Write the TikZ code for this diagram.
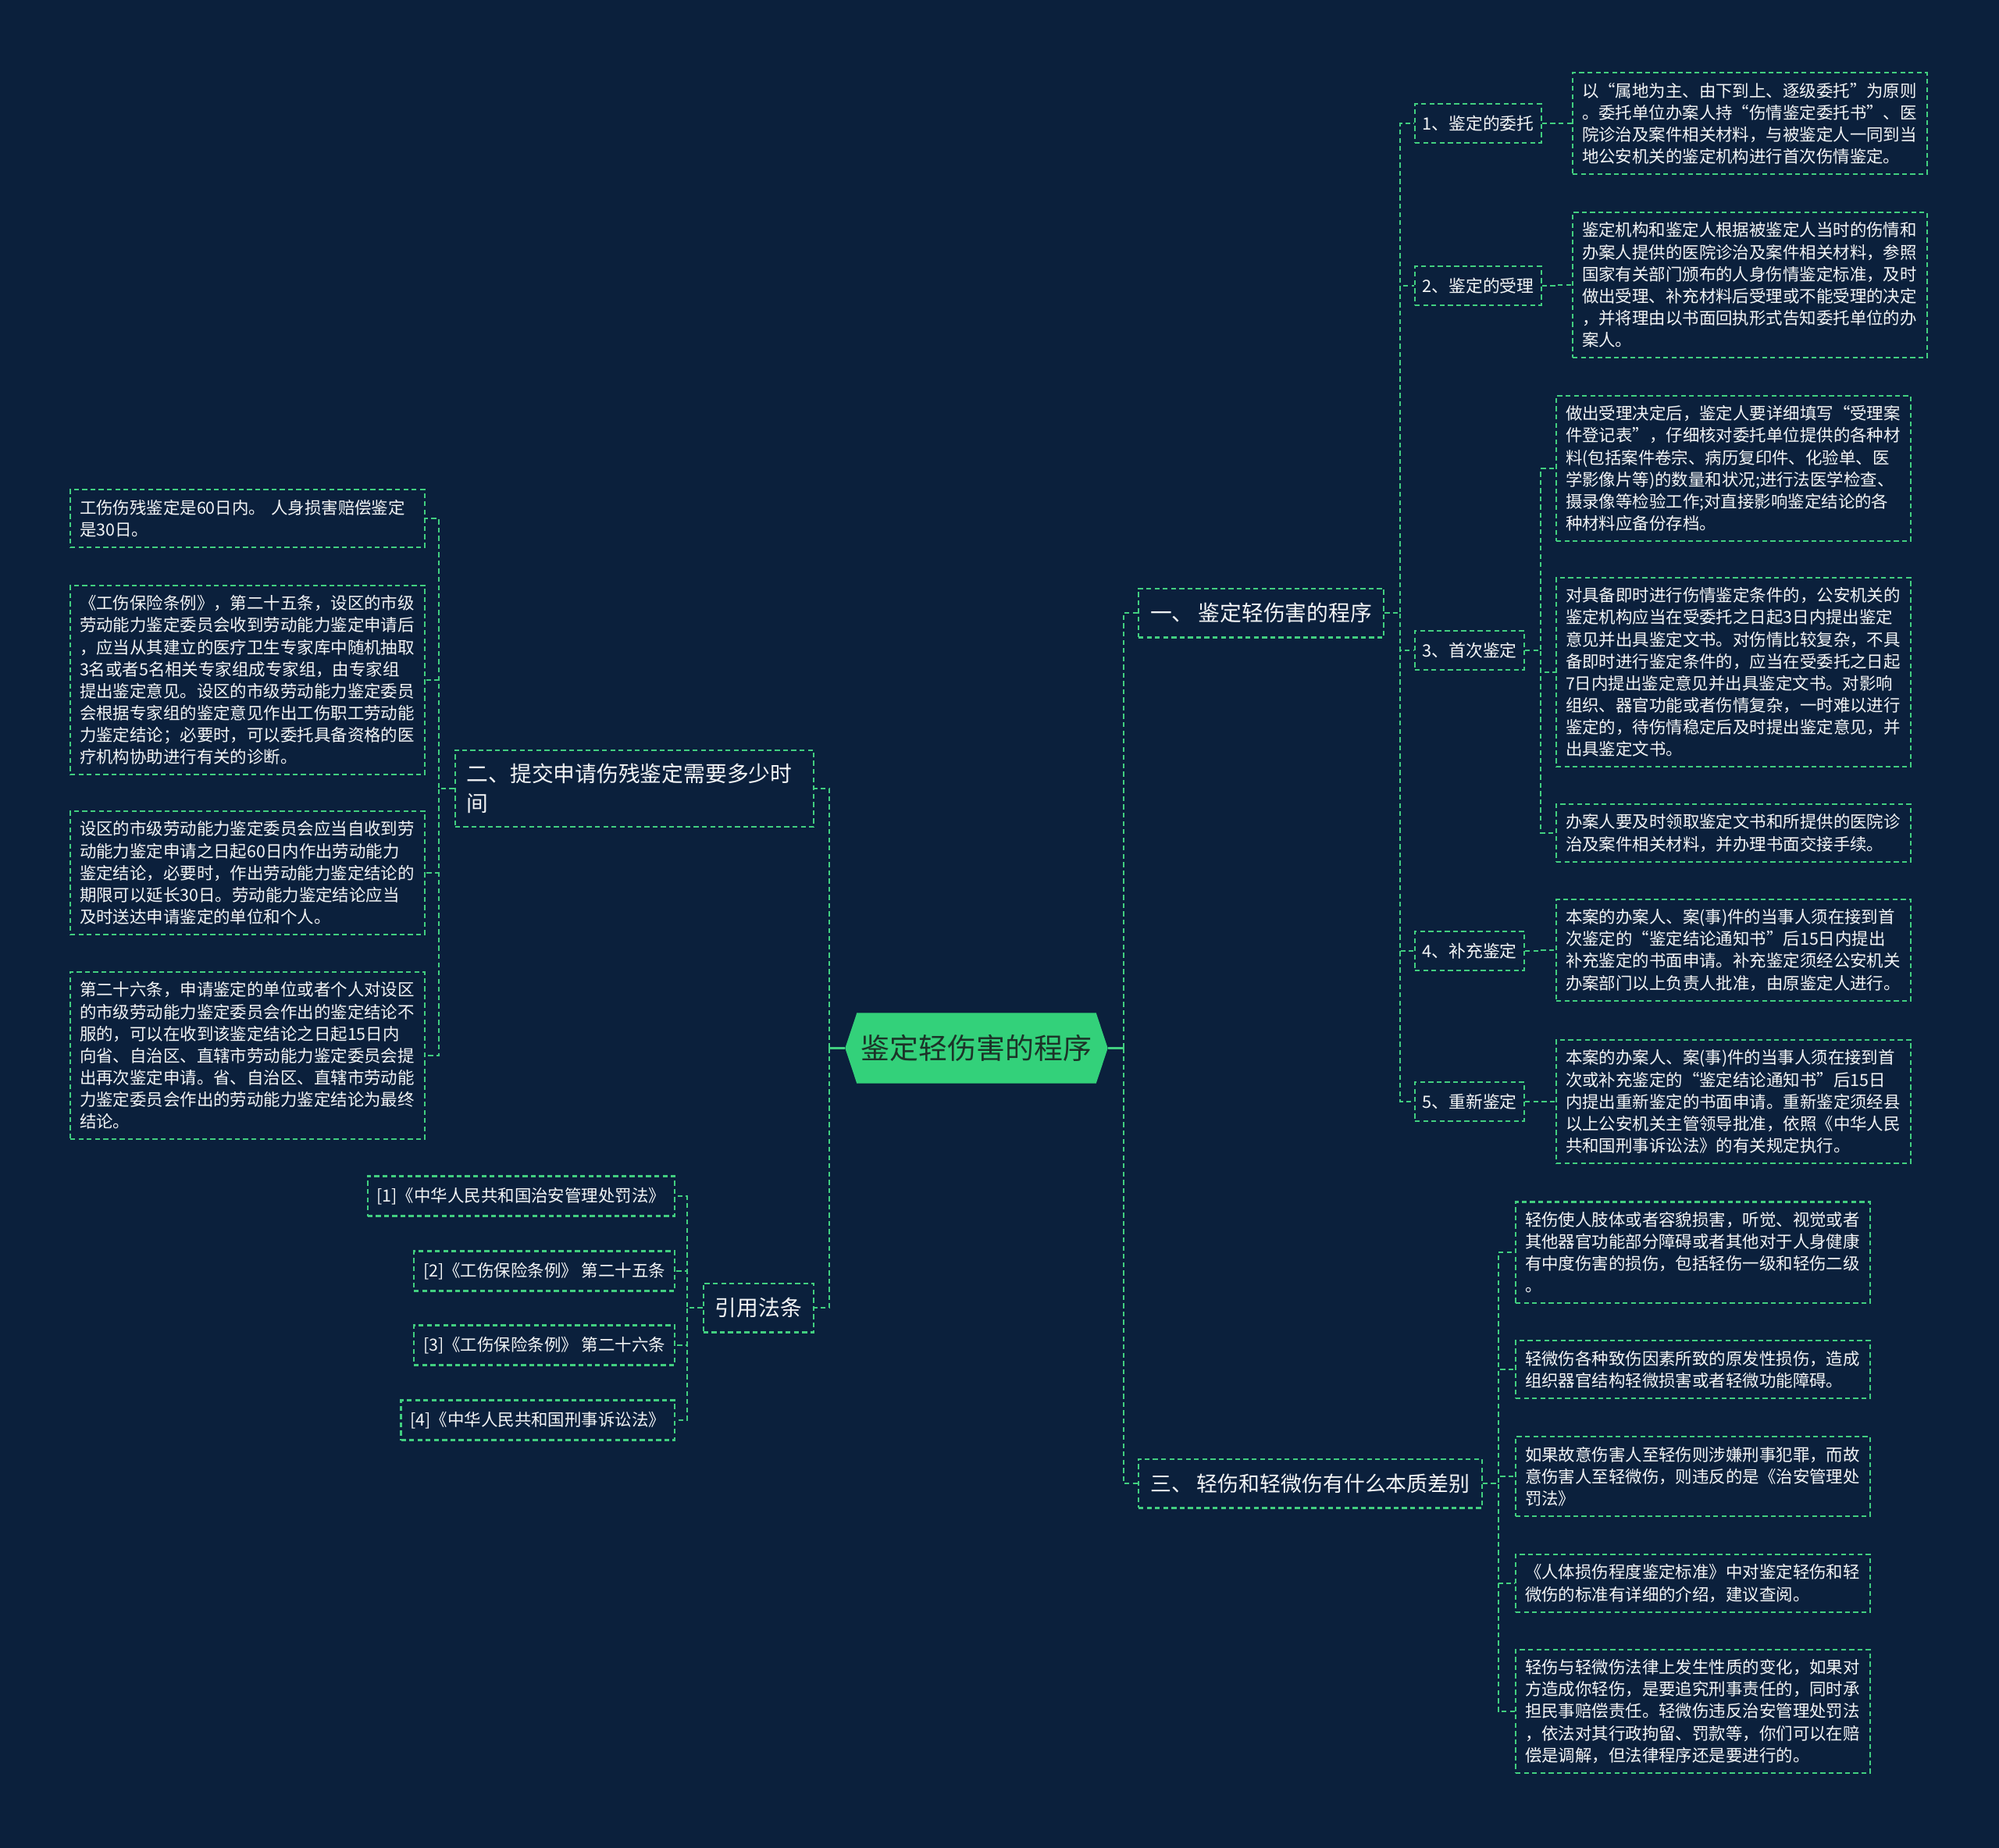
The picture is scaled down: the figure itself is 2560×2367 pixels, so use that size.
\documentclass[tikz,border=0pt]{standalone}
\usepackage{fontspec}
\setmainfont{Noto Sans CJK SC}
\usetikzlibrary{backgrounds}
\definecolor{navy}{HTML}{0B203C}
\definecolor{mint}{HTML}{42CF80}
\definecolor{corefill}{HTML}{33D17A}
\definecolor{coreink}{HTML}{1C3328}
\definecolor{ink}{HTML}{F3F5F6}
\begin{document}
\begin{tikzpicture}[x=0.1mm, y=-0.1mm,
  dashbox/.style={draw=mint, line width=0.6pt, dash pattern=on 1.8pt off 1.2pt, text=ink},
  topic/.style={dashbox, font=\fontsize{7.9}{10.7}\selectfont, inner xsep=4.3pt, inner ysep=5pt, minimum height=17.9pt},
  sub/.style={dashbox, font=\fontsize{6.2}{8}\selectfont, inner xsep=2.7pt, inner ysep=3.9pt, minimum height=14pt},
  leaf/.style={dashbox, font=\fontsize{6.1}{8}\selectfont, text width=43mm, align=left, inner xsep=3.4pt, inner ysep=3.6pt},
  cite/.style={dashbox, font=\fontsize{6.1}{8}\selectfont, inner xsep=3.4pt, minimum height=14.5pt},
  core/.style={font=\fontsize{10.5}{12}\selectfont, text=coreink, minimum width=30.5mm, minimum height=8.9mm, inner sep=0pt},
  link/.style={draw=mint, line width=0.6pt, dash pattern=on 1.8pt off 1.2pt},
  stem/.style={draw=mint, line width=0.9pt}
]
\useasboundingbox (0,0) rectangle (2560,2367);
\begin{scope}[on background layer]
\fill[navy] (0,0) rectangle (2560,2367);
\end{scope}

\node[core] (core) at (1250.5,1342.5) {鉴定轻伤害的程序};
\begin{scope}[on background layer]
\fill[corefill] (core.north west) -- (core.north east) -- ([xshift=1.5mm]core.east) -- (core.south east) -- (core.south west) -- ([xshift=-1.5mm]core.west) -- cycle;
\end{scope}

% right side
\node[topic, anchor=west] (proc) at (1457,785) {一、 鉴定轻伤害的程序};
\node[topic, anchor=west, font=\fontsize{7.65}{10}\selectfont] (diff) at (1457,1900) {三、 轻伤和轻微伤有什么本质差别};

\node[sub, anchor=west] (s1) at (1811,158) {1、鉴定的委托};
\node[sub, anchor=west] (s2) at (1811,366) {2、鉴定的受理};
\node[sub, anchor=west] (s3) at (1811,833) {3、首次鉴定};
\node[sub, anchor=west] (s4) at (1811,1218) {4、补充鉴定};
\node[sub, anchor=west] (s5) at (1811,1411) {5、重新鉴定};

\node[leaf, anchor=west] (s1t) at (2013,158) {以“属地为主、由下到上、逐级委托”为原则\\。委托单位办案人持“伤情鉴定委托书”、医\\院诊治及案件相关材料，与被鉴定人一同到当\\地公安机关的鉴定机构进行首次伤情鉴定。};
\node[leaf, anchor=west] (s2t) at (2013,365) {鉴定机构和鉴定人根据被鉴定人当时的伤情和\\办案人提供的医院诊治及案件相关材料，参照\\国家有关部门颁布的人身伤情鉴定标准，及时\\做出受理、补充材料后受理或不能受理的决定\\，并将理由以书面回执形式告知委托单位的办\\案人。};
\node[leaf, anchor=west] (s3a) at (1992,600) {做出受理决定后，鉴定人要详细填写“受理案\\件登记表”，仔细核对委托单位提供的各种材\\料(包括案件卷宗、病历复印件、化验单、医\\学影像片等)的数量和状况;进行法医学检查、\\摄录像等检验工作;对直接影响鉴定结论的各\\种材料应备份存档。};
\node[leaf, anchor=west] (s3b) at (1992,861) {对具备即时进行伤情鉴定条件的，公安机关的\\鉴定机构应当在受委托之日起3日内提出鉴定\\意见并出具鉴定文书。对伤情比较复杂，不具\\备即时进行鉴定条件的，应当在受委托之日起\\7日内提出鉴定意见并出具鉴定文书。对影响\\组织、器官功能或者伤情复杂，一时难以进行\\鉴定的，待伤情稳定后及时提出鉴定意见，并\\出具鉴定文书。};
\node[leaf, anchor=west] (s3c) at (1992,1067) {办案人要及时领取鉴定文书和所提供的医院诊\\治及案件相关材料，并办理书面交接手续。};
\node[leaf, anchor=west] (s4t) at (1992,1217) {本案的办案人、案(事)件的当事人须在接到首\\次鉴定的“鉴定结论通知书”后15日内提出\\补充鉴定的书面申请。补充鉴定须经公安机关\\办案部门以上负责人批准，由原鉴定人进行。};
\node[leaf, anchor=west] (s5t) at (1992,1411) {本案的办案人、案(事)件的当事人须在接到首\\次或补充鉴定的“鉴定结论通知书”后15日\\内提出重新鉴定的书面申请。重新鉴定须经县\\以上公安机关主管领导批准，依照《中华人民\\共和国刑事诉讼法》的有关规定执行。};

\node[leaf, anchor=west] (d1) at (1940,1604) {轻伤使人肢体或者容貌损害，听觉、视觉或者\\其他器官功能部分障碍或者其他对于人身健康\\有中度伤害的损伤，包括轻伤一级和轻伤二级\\。};
\node[leaf, anchor=west] (d2) at (1940,1754) {轻微伤各种致伤因素所致的原发性损伤，造成\\组织器官结构轻微损害或者轻微功能障碍。};
\node[leaf, anchor=west] (d3) at (1940,1891) {如果故意伤害人至轻伤则涉嫌刑事犯罪，而故\\意伤害人至轻微伤，则违反的是《治安管理处\\罚法》};
\node[leaf, anchor=west] (d4) at (1940,2028) {《人体损伤程度鉴定标准》中对鉴定轻伤和轻\\微伤的标准有详细的介绍，建议查阅。};
\node[leaf, anchor=west] (d5) at (1940,2192) {轻伤与轻微伤法律上发生性质的变化，如果对\\方造成你轻伤，是要追究刑事责任的，同时承\\担民事赔偿责任。轻微伤违反治安管理处罚法\\，依法对其行政拘留、罚款等，你们可以在赔\\偿是调解，但法律程序还是要进行的。};

% left side
\node[topic, anchor=east, text width=42.9mm, align=left] (time) at (1043,1010) {二、提交申请伤残鉴定需要多少时\\间};
\node[topic, anchor=east] (law) at (1043,1675) {引用法条};

\node[leaf, anchor=east] (t1) at (545,664) {工伤伤残鉴定是60日内。 人身损害赔偿鉴定\\是30日。};
\node[leaf, anchor=east] (t2) at (545,871) {《工伤保险条例》，第二十五条，设区的市级\\劳动能力鉴定委员会收到劳动能力鉴定申请后\\，应当从其建立的医疗卫生专家库中随机抽取\\3名或者5名相关专家组成专家组，由专家组\\提出鉴定意见。设区的市级劳动能力鉴定委员\\会根据专家组的鉴定意见作出工伤职工劳动能\\力鉴定结论；必要时，可以委托具备资格的医\\疗机构协助进行有关的诊断。};
\node[leaf, anchor=east] (t3) at (545,1118) {设区的市级劳动能力鉴定委员会应当自收到劳\\动能力鉴定申请之日起60日内作出劳动能力\\鉴定结论，必要时，作出劳动能力鉴定结论的\\期限可以延长30日。劳动能力鉴定结论应当\\及时送达申请鉴定的单位和个人。};
\node[leaf, anchor=east] (t4) at (545,1352) {第二十六条，申请鉴定的单位或者个人对设区\\的市级劳动能力鉴定委员会作出的鉴定结论不\\服的，可以在收到该鉴定结论之日起15日内\\向省、自治区、直辖市劳动能力鉴定委员会提\\出再次鉴定申请。省、自治区、直辖市劳动能\\力鉴定委员会作出的劳动能力鉴定结论为最终\\结论。};

\node[cite, anchor=east] (c1) at (865,1532) {[1]《中华人民共和国治安管理处罚法》};
\node[cite, anchor=east] (c2) at (865,1628) {[2]《工伤保险条例》 第二十五条};
\node[cite, anchor=east] (c3) at (865,1723) {[3]《工伤保险条例》 第二十六条};
\node[cite, anchor=east] (c4) at (865,1819) {[4]《中华人民共和国刑事诉讼法》};

% connectors
\draw[stem] ([xshift=1.5mm]core.east) -- ++(2mm,0);
\draw[link] ([xshift=3.5mm]core.east) |- (proc.west);
\draw[link] ([xshift=3.5mm]core.east) |- (diff.west);
\draw[stem] ([xshift=-1.5mm]core.west) -- ++(-2mm,0);
\draw[link] ([xshift=-3.5mm]core.west) |- (time.east);
\draw[link] ([xshift=-3.5mm]core.west) |- (law.east);

\draw[link] (proc.east) -- ++(2mm,0) |- (s1.west);
\draw[link] (proc.east) -- ++(2mm,0) |- (s2.west);
\draw[link] (proc.east) -- ++(2mm,0) |- (s3.west);
\draw[link] (proc.east) -- ++(2mm,0) |- (s4.west);
\draw[link] (proc.east) -- ++(2mm,0) |- (s5.west);
\draw[link] (s1.east) -- ++(2mm,0) |- (s1t.west);
\draw[link] (s2.east) -- ++(2mm,0) |- (s2t.west);
\draw[link] (s3.east) -- ++(2mm,0) |- (s3a.west);
\draw[link] (s3.east) -- ++(2mm,0) |- (s3b.west);
\draw[link] (s3.east) -- ++(2mm,0) |- (s3c.west);
\draw[link] (s4.east) -- ++(2mm,0) |- (s4t.west);
\draw[link] (s5.east) -- ++(2mm,0) |- (s5t.west);

\draw[link] (diff.east) -- ++(2mm,0) |- (d1.west);
\draw[link] (diff.east) -- ++(2mm,0) |- (d2.west);
\draw[link] (diff.east) -- ++(2mm,0) |- (d3.west);
\draw[link] (diff.east) -- ++(2mm,0) |- (d4.west);
\draw[link] (diff.east) -- ++(2mm,0) |- (d5.west);

\draw[link] (time.west) -- ++(-2mm,0) |- (t1.east);
\draw[link] (time.west) -- ++(-2mm,0) |- (t2.east);
\draw[link] (time.west) -- ++(-2mm,0) |- (t3.east);
\draw[link] (time.west) -- ++(-2mm,0) |- (t4.east);

\draw[link] (law.west) -- ++(-2mm,0) |- (c1.east);
\draw[link] (law.west) -- ++(-2mm,0) |- (c2.east);
\draw[link] (law.west) -- ++(-2mm,0) |- (c3.east);
\draw[link] (law.west) -- ++(-2mm,0) |- (c4.east);
\end{tikzpicture}
\end{document}
